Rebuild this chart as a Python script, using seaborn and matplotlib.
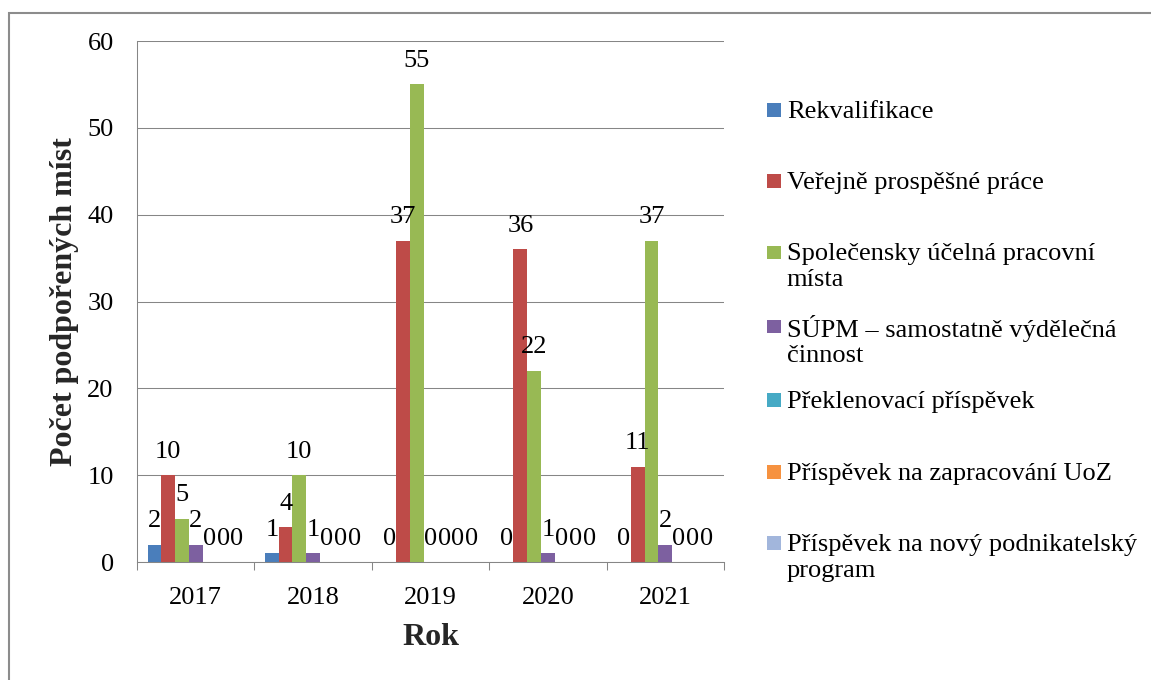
import pandas as pd
import matplotlib
matplotlib.use('Agg')
import matplotlib.pyplot as plt
import matplotlib.patches as mpatches
from matplotlib.legend_handler import HandlerPatch
import seaborn as sns

# data
years = ['2017', '2018', '2019', '2020', '2021']
series = ['Rekvalifikace', 'Veřejně prospěšné práce', 'Společensky účelná pracovní místa',
          'SÚPM – samostatně výdělečná činnost', 'Překlenovací příspěvek',
          'Příspěvek na zapracování UoZ', 'Příspěvek na nový podnikatelský program']
rekvalifikace = [2, 1, 0, 0, 0]
verejne_prace = [10, 4, 37, 36, 11]
ucelna_mista = [5, 10, 55, 22, 37]
supm_svc = [2, 1, 0, 1, 2]
preklenovaci = [0, 0, 0, 0, 0]
zapracovani = [0, 0, 0, 0, 0]
podnikatelsky = [0, 0, 0, 0, 0]
legend_labels = ['Rekvalifikace\n ', 'Veřejně prospěšné práce\n ',
                 'Společensky účelná pracovní\nmísta', 'SÚPM – samostatně výdělečná\nčinnost',
                 'Překlenovací příspěvek\n ', 'Příspěvek na zapracování UoZ\n ',
                 'Příspěvek na nový podnikatelský\nprogram']
colors = ['#4A7EBB', '#BE4B48', '#98B954', '#7D60A0', '#46AAC5', '#F69240', '#A2B6DC']

values = [rekvalifikace, verejne_prace, ucelna_mista, supm_svc, preklenovaci, zapracovani, podnikatelsky]
df = pd.DataFrame({
    'Rok': years * len(series),
    'typ': [s for s in series for _ in years],
    'pocet': [v for vals in values for v in vals],
})

sns.set_theme(style='white')
plt.rcParams['font.family'] = ['Liberation Serif', 'DejaVu Serif']
plt.rcParams['text.color'] = 'black'
plt.rcParams['xtick.color'] = 'black'
plt.rcParams['ytick.color'] = 'black'

fig = plt.figure(figsize=(11.51, 6.8), dpi=100)
ax = fig.add_axes([0.119, 0.1735, 0.51, 0.7662])

sns.barplot(data=df, x='Rok', y='pocet', hue='typ', hue_order=series, order=years,
            palette=colors, saturation=1, width=0.82, linewidth=0, ax=ax)

handles, _ = ax.get_legend_handles_labels()
ax.get_legend().remove()

for c in ax.containers:
    ax.bar_label(c, fmt='%g', padding=9, fontsize=19)

ax.set_ylim(0, 60)
ax.set_yticks(range(0, 61, 10))
ax.set_xlim(-0.5, 4.5)
ax.set_xticks([i - 0.5 for i in range(6)], minor=True)
ax.yaxis.grid(True, color='#868686', linewidth=0.75)
ax.set_axisbelow(True)
for s in ['top', 'right']:
    ax.spines[s].set_visible(False)
for s in ['left', 'bottom']:
    ax.spines[s].set_color('#868686')
    ax.spines[s].set_linewidth(0.75)
ax.tick_params(axis='y', length=5.8, width=0.75, color='#868686', pad=11, labelsize=19)
ax.tick_params(axis='x', which='major', length=0, pad=18.3, labelsize=19)
ax.tick_params(axis='x', which='minor', length=5.8, width=0.75, color='#868686', bottom=True)

ax.set_xlabel('Rok', fontsize=23, fontweight='bold')
ax.set_ylabel('Počet podpořených míst', fontsize=23, fontweight='bold')
ax.xaxis.set_label_coords(0.5, -0.1165)
ax.yaxis.set_label_coords(-0.099, 0.5)

# legend markers sit at the first line of each entry
marker_lift = 10


def square_handle(legend, orig_handle, xdescent, ydescent, width, height, fontsize):
    s = 10
    return mpatches.Rectangle((-xdescent + (width - s) / 2,
                               -ydescent + (height - s) / 2 + marker_lift), s, s)


leg = fig.legend(handles, legend_labels, loc='upper left', bbox_to_anchor=(0.6664, 0.852),
                 frameon=False, borderpad=0, borderaxespad=0, fontsize=19,
                 handlelength=0.55, handletextpad=0.2, labelspacing=0.91,
                 handler_map={mpatches.Rectangle: HandlerPatch(patch_func=square_handle)})
for t in leg.get_texts():
    t.set_color('black')

# outer chart border
fig.add_artist(mpatches.Rectangle((9 / 1151, -0.1), 1.2, 1.1 - 13 / 680, fill=False,
                                  edgecolor='#8c8c8c', linewidth=1.5,
                                  transform=fig.transFigure, clip_on=False))

plt.savefig('out.png', dpi=100)
